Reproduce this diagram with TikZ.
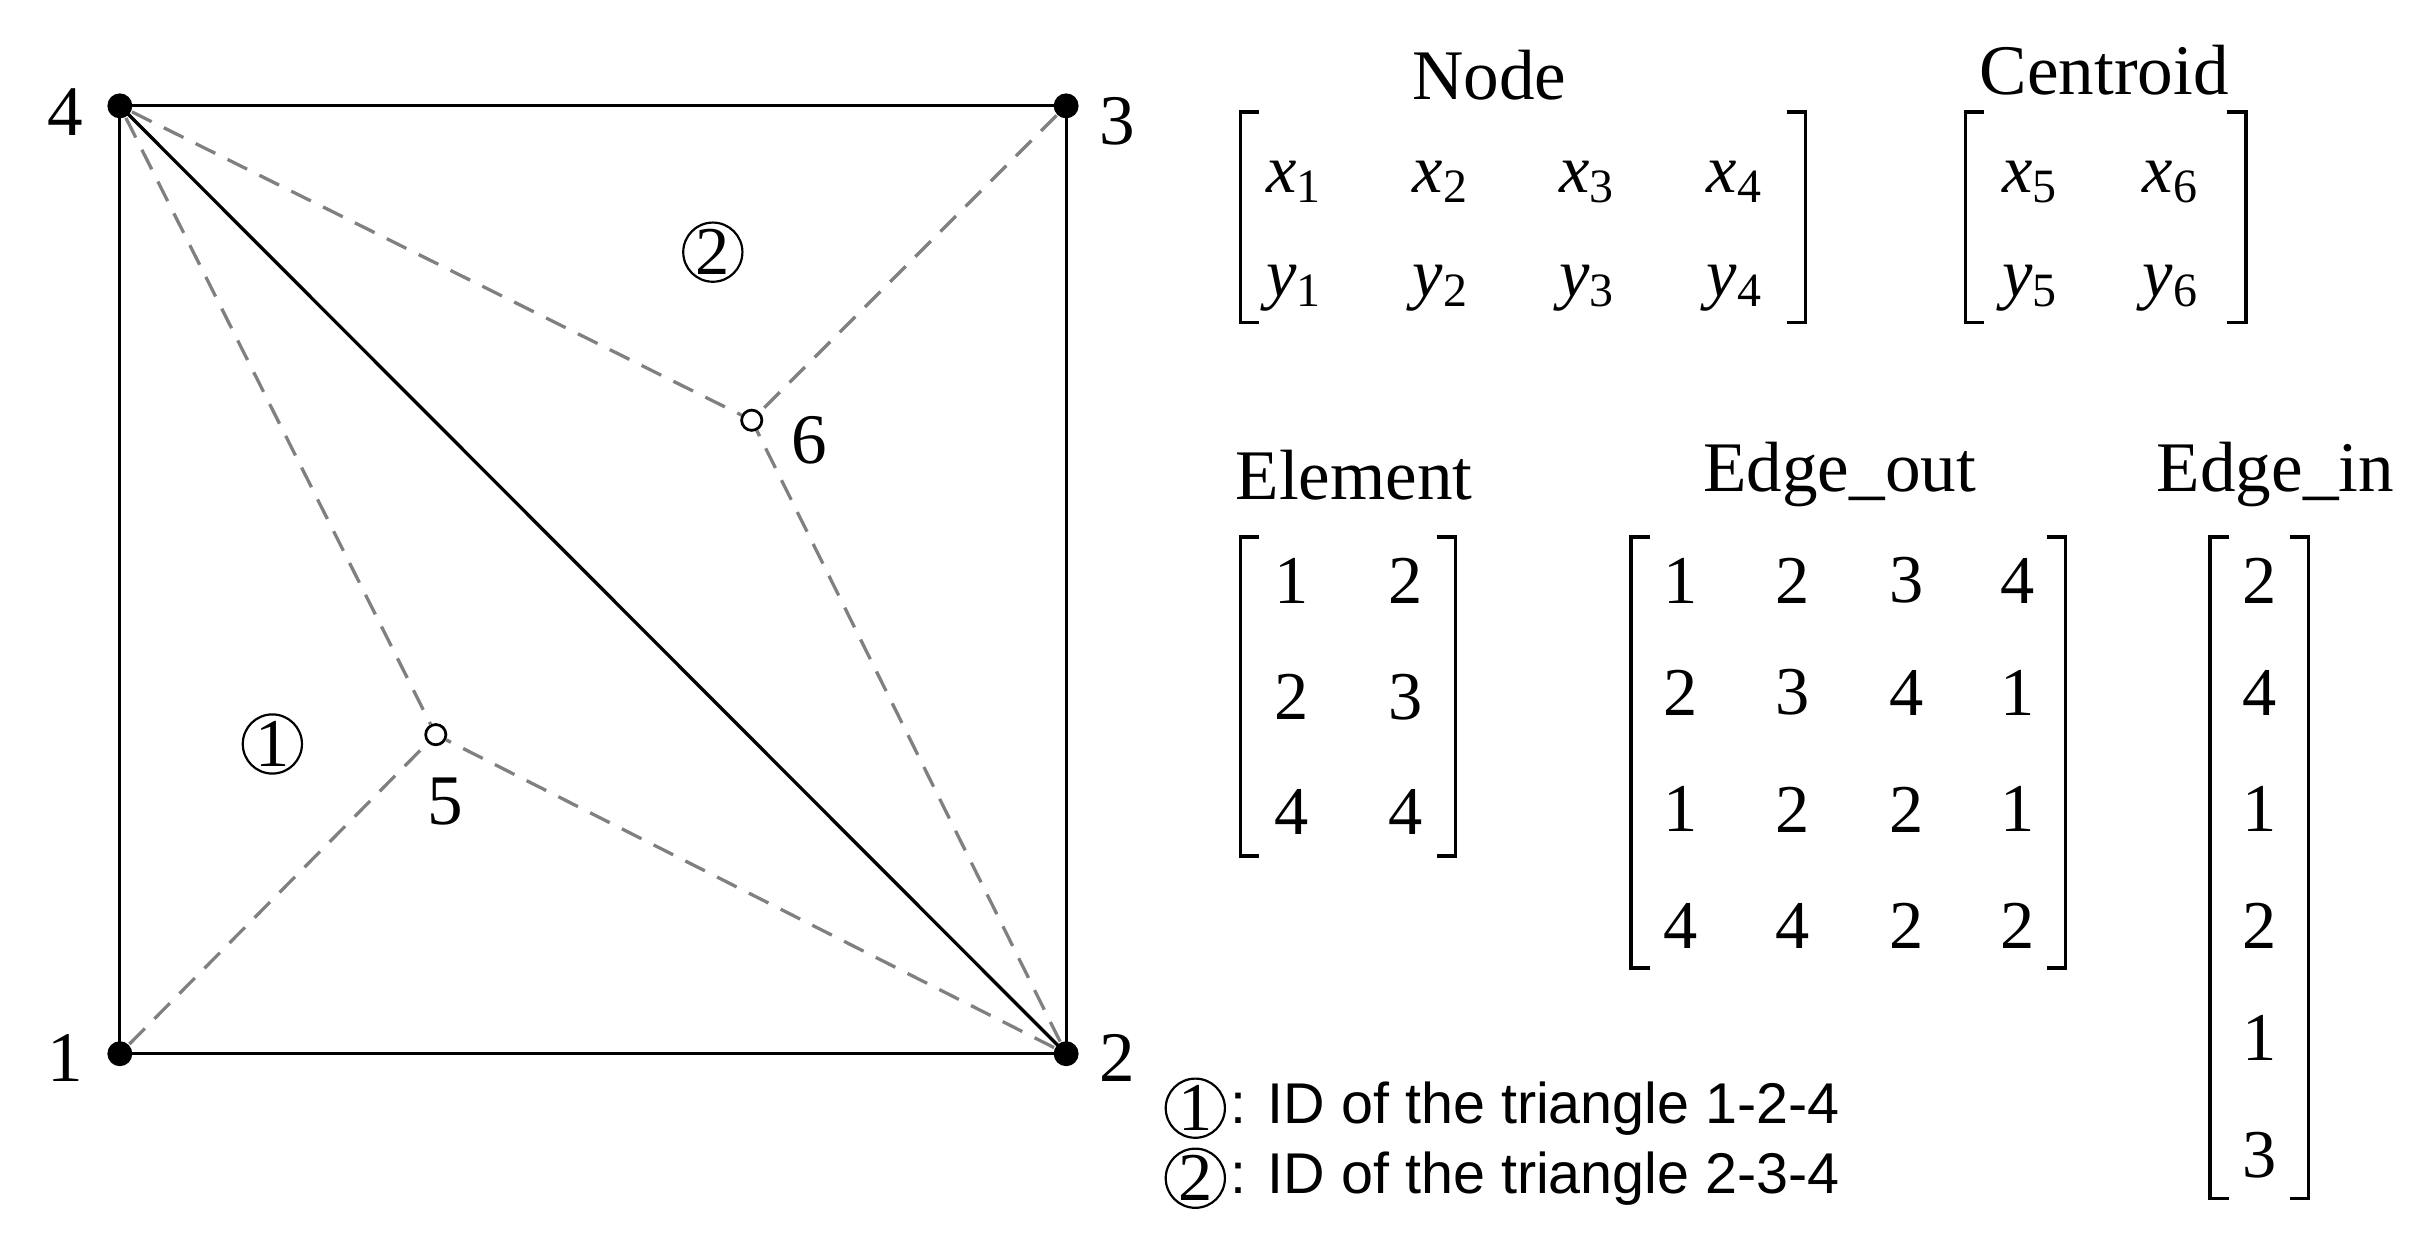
\documentclass[tikz,border=0pt]{standalone}
\usepackage{fontspec}
\setmainfont{Liberation Serif}
\newfontfamily\sff{Liberation Sans}
\begin{document}
\begin{tikzpicture}[x=0.01cm,y=-0.01cm,
  big/.style={font=\fontsize{13}{14}\selectfont},
  ent/.style={font=\fontsize{12.5}{14}\selectfont},
  pt/.style={circle,fill=black,inner sep=0pt,minimum size=0.16cm},
  cen/.style={circle,draw=black,line width=0.5pt,inner sep=0pt,minimum size=0.13cm},
  dsh/.style={draw=gray,dashed,line width=0.6pt,dash pattern=on 4pt off 2.5pt},
  circ/.style={circle,draw,inner sep=0pt,minimum size=0.38cm,font=\fontsize{12.5}{14}\selectfont},
  br/.style={line width=0.6pt}]
\useasboundingbox (0,0) rectangle (1560,796);
\node[pt] (n4) at (77,68) {};
\node[pt] (n3) at (685,68) {};
\node[pt] (n1) at (77,677) {};
\node[pt] (n2) at (685,677) {};
\node[cen] (n5) at (280,472) {};
\node[cen] (n6) at (483,270) {};
\draw[line width=0.6pt] (n1.center)--(n2.center)--(n3.center)--(n4.center)--cycle;
\draw[line width=0.6pt] (n4.center)--(n2.center);
\draw[dsh] (n1)--(n5) (n4)--(n5) (n2)--(n5);
\draw[dsh] (n3)--(n6) (n4)--(n6) (n2)--(n6);
\node[big] (l4) at (42,72) {4};
\node[big] (l3) at (718,78) {3};
\node[big] (l1) at (42,680) {1};
\node[big] (l2) at (718,680) {2};
\node[big] (l5) at (286,515) {5};
\node[big] (l6) at (520,283) {6};
\node[circ] (c2) at (458,162) {2};
\node[circ] (c1) at (175,478) {1};
\newcommand{\mybr}[4]{\draw[br] (#1+12,#3)--(#1,#3)--(#1,#4)--(#1+12,#4); \draw[br] (#2-12,#3)--(#2,#3)--(#2,#4)--(#2-12,#4);}
\newcommand{\vv}[2]{\textit{#1}\textsubscript{#2}}
\node[big] (tnode) at (957,48) {Node};
\mybr{797}{1160}{72}{207}
\foreach \x/\i in {832/1,926/2,1020/3,1115/4}{
 \node[ent] (nx\i) at (\x,117) {\vv{x}{\i}};
 \node[ent] (ny\i) at (\x,185) {\vv{y}{\i}};}
\node[big] (tcen) at (1352,45) {Centroid};
\mybr{1263}{1443}{72}{207}
\foreach \x/\i in {1305/5,1395/6}{
 \node[ent] (cx\i) at (\x,117) {\vv{x}{\i}};
 \node[ent] (cy\i) at (\x,185) {\vv{y}{\i}};}
\node[big] (tel) at (870,305) {Element};
\mybr{797}{935}{345}{550}
\foreach \a/\b/\y [count=\r] in {1/2/373,2/3/448,4/4/522}{
 \node[ent] (ea\r) at (830,\y) {\a};
 \node[ent] (eb\r) at (903,\y) {\b};}
\node[big] (teo) at (1182,305) {Edge\_out};
\mybr{1048}{1327}{345}{622}
\foreach \a/\b/\c/\d/\y [count=\r] in {1/2/3/4/373,2/3/4/1/445,1/2/2/1/520,4/4/2/2/595}{
 \node[ent] (oa\r) at (1080,\y) {\a};
 \node[ent] (ob\r) at (1152,\y) {\b};
 \node[ent] (oc\r) at (1225,\y) {\c};
 \node[ent] (od\r) at (1296,\y) {\d};}
\node[big] (tei) at (1462,305) {Edge\_in};
\mybr{1420}{1483}{345}{770}
\foreach \a/\y [count=\r] in {2/373,4/445,1/520,2/595,1/667,3/742}{
 \node[ent] (ia\r) at (1452,\y) {\a};}
\node[circ] (lc1) at (768,712) {1};
\node[circ] (lc2) at (768,757) {2};
\node[anchor=west,inner sep=0pt,font=\sff\fontsize{10.5}{12}\selectfont] (lt1) at (790,712) {: ID of the triangle 1-2-4};
\node[anchor=west,inner sep=0pt,font=\sff\fontsize{10.5}{12}\selectfont] (lt2) at (790,757) {: ID of the triangle 2-3-4};
\end{tikzpicture}
\end{document}
